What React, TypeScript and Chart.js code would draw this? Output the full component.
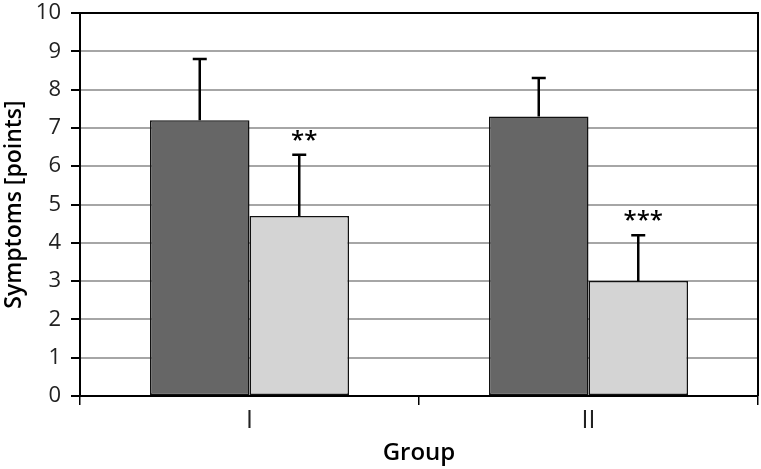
import React, { useEffect, useRef } from "react";
import { Chart, registerables } from "chart.js";

Chart.register(...registerables);

const categories = ["I", "II"];
const beforeValues = [7.2, 7.3];
const afterValues = [4.7, 3.0];
const beforeErrors = [1.6, 1.0];
const afterErrors = [1.6, 1.2];
const afterMarks = ["**", "***"];
const yTicks = [0, 1, 2, 3, 4, 5, 6, 7, 8, 9, 10];

const errorPlugin = {
  id: "errorBars",
  afterDatasetsDraw(chart: any) {
    const ctx = chart.ctx;
    const yScale = chart.scales.y;
    const errs = [beforeErrors, afterErrors];
    ctx.save();
    chart.data.datasets.forEach((ds: any, di: number) => {
      const meta = chart.getDatasetMeta(di);
      meta.data.forEach((bar: any, i: number) => {
        const v = ds.data[i];
        const e = errs[di][i];
        const top = yScale.getPixelForValue(v + e);
        ctx.strokeStyle = "#000";
        ctx.lineWidth = 2.5;
        ctx.beginPath();
        ctx.moveTo(bar.x, bar.y);
        ctx.lineTo(bar.x, top);
        ctx.moveTo(bar.x - 7, top);
        ctx.lineTo(bar.x + 7, top);
        ctx.stroke();
        if (di === 1) {
          ctx.fillStyle = "#000";
          ctx.font = "600 24px 'Open Sans'";
          ctx.textAlign = "center";
          ctx.textBaseline = "middle";
          ctx.fillText(afterMarks[i], bar.x + 5, top - 14);
        }
      });
    });
    const a = chart.chartArea;
    ctx.strokeStyle = "#000";
    ctx.lineWidth = 2;
    ctx.beginPath();
    ctx.moveTo(a.left, a.top);
    ctx.lineTo(a.right, a.top);
    ctx.lineTo(a.right, a.bottom);
    ctx.stroke();
    ctx.restore();
  },
};

export default function App() {
  const ref = useRef<HTMLCanvasElement>(null);
  useEffect(() => {
    const chart = new Chart(ref.current!, {
      type: "bar",
      data: {
        labels: categories,
        datasets: [
          {
            label: "Before",
            data: beforeValues,
            backgroundColor: "#666666",
            borderColor: "#111",
            borderWidth: 1.5,
            borderSkipped: false,
          },
          {
            label: "After",
            data: afterValues,
            backgroundColor: "#d4d4d4",
            borderColor: "#111",
            borderWidth: 1.5,
            borderSkipped: false,
          },
        ],
      },
      plugins: [errorPlugin],
      options: {
        responsive: true,
        maintainAspectRatio: false,
        animation: false,
        layout: { padding: { left: 0, top: 13, right: 3, bottom: 0 } },
        datasets: { bar: { barPercentage: 1, categoryPercentage: 0.587 } },
        plugins: { legend: { display: false }, tooltip: { enabled: false } },
        scales: {
          x: {
            grid: { drawOnChartArea: false, tickLength: 9, color: "#000", lineWidth: 1.5 },
            border: { color: "#000", width: 2 },
            ticks: { color: "#222", font: { family: "'Open Sans'", size: 25 }, padding: 1 },
            title: {
              display: true,
              text: "Group",
              color: "#000",
              font: { family: "'Open Sans'", size: 24, weight: "600" },
              padding: { top: 0, bottom: 1 },
            },
            afterFit: (s: any) => { s.height = 73; s.paddingLeft = 0; s.paddingRight = 0; },
          },
          y: {
            min: 0,
            max: 10,
            afterBuildTicks: (s: any) => { s.ticks = yTicks.map((v) => ({ value: v })); },
            grid: { color: "#a6a6a6", lineWidth: 2, tickLength: 9, tickColor: "#000", tickWidth: 2 },
            border: { color: "#000", width: 2 },
            ticks: { color: "#222", font: { family: "'Open Sans'", size: 22 }, padding: 10 },
            title: {
              display: true,
              text: "Symptoms [points]",
              color: "#000",
              font: { family: "'Open Sans'", size: 23, weight: "600" },
              padding: { top: 1, bottom: 0 },
            },
            afterFit: (s: any) => { s.width = 80; s.paddingTop = 0; s.paddingBottom = 0; },
          },
        },
      },
    });
    return () => chart.destroy();
  }, []);
  return (
    <div style={{ position: "fixed", left: 0, top: 0, width: 761, height: 469, background: "#fff" }}>
      <canvas ref={ref} />
    </div>
  );
}
